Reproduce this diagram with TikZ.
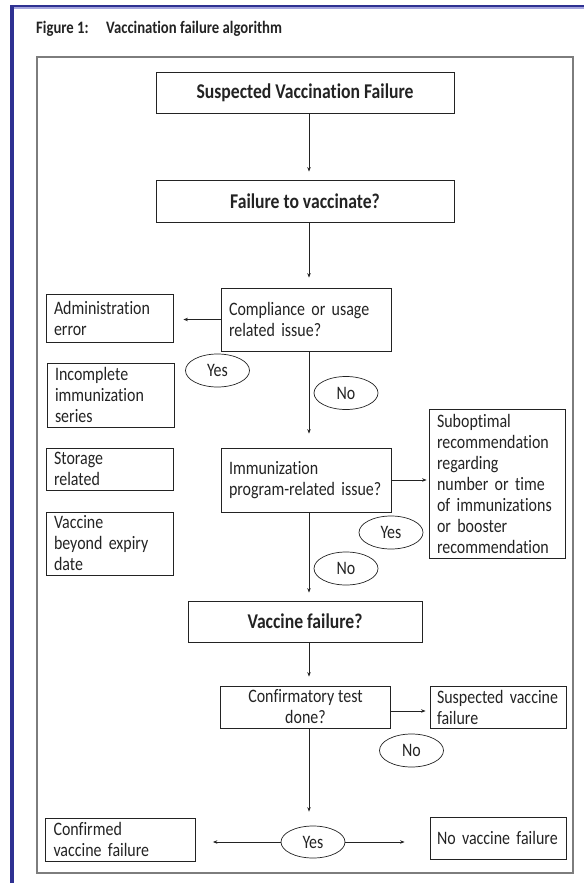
\documentclass[tikz,border=0pt]{standalone}
\usepackage{fontspec}
\setmainfont{Carlito}[FakeStretch=0.84, Ligatures=NoCommon]
\usepackage{xcolor}
\usepackage{tikz}
\usetikzlibrary{arrows.meta, shapes.geometric}
\pgfdeclarelayer{bg}
\pgfsetlayers{bg,main}
\definecolor{bandblue}{RGB}{46,49,146}
\definecolor{bandlight}{RGB}{165,165,222}
\definecolor{framegray}{RGB}{125,125,125}
\definecolor{inkgray}{RGB}{35,35,35}
\newcommand{\boxfont}{\fontsize{19}{21}\selectfont\setlength{\spaceskip}{3.8pt}}

\tikzset{
	flowbox/.style={draw=inkgray, line width=0.8pt, inner xsep=8pt, inner ysep=0pt, text=inkgray, font=\boxfont},
	leftbox/.style={flowbox, align=left},
	midbox/.style={flowbox, align=center},
	headbox/.style={flowbox, align=center, font=\fontsize{21}{24}\bfseries\selectfont},
	answer/.style={ellipse, draw=inkgray, line width=0.7pt, inner sep=0pt, minimum width=64pt, minimum height=33pt, text=inkgray, font=\fontsize{19}{21}\selectfont},
	flow/.style={draw=inkgray, line width=0.8pt, -{Stealth[length=4.5pt, width=3.5pt]}},
}

\begin{document}
\begin{tikzpicture}[x=1pt, y=-1pt]
			\useasboundingbox (0,0) rectangle (584,883);
			% page band and frame
			\fill[bandblue] (10,5) rectangle (584,7.5);
			\fill[bandlight] (14,7.5) rectangle (584,9);
			\fill[bandblue] (10,5) rectangle (14,883);
			\draw[framegray, line width=1.3pt] (37,57) rectangle (573,873);
			\node[anchor=base west, inner sep=0pt, text=inkgray, font=\fontsize{17.5}{20}\bfseries\selectfont] (title) at (36,33.5) {Figure 1:\hspace{1em}Vaccination failure algorithm};

			% main column
			\node[headbox, minimum width=298pt, minimum height=41pt] (susp) at (305,92.5) {Suspected Vaccination Failure};
			\node[headbox, minimum width=298pt, minimum height=42pt] (fail) at (305,201) {Failure to vaccinate?};
			\node[leftbox, minimum height=63pt, text width=154pt] (compl) at (306,319.5) {Compliance or usage\\related issue?};
			\node[leftbox, minimum height=64pt, text width=154pt] (immun) at (306,480) {Immunization\\program-related issue?};
			\node[headbox, minimum width=234pt, minimum height=41pt] (vfail) at (305,621.5) {Vaccine failure?};
			\node[midbox, minimum width=170pt, minimum height=42pt] (confirm) at (305.5,707) {Confirmatory test\\done?};

			% left column
			\node[leftbox, minimum height=48pt, text width=111pt] (admin) at (109.5,318) {Administration\\error};
			\node[leftbox, minimum height=64pt, text width=111pt] (incompl) at (110.5,395) {Incomplete\\immunization\\series};
			\node[leftbox, minimum height=42pt, text width=111pt] (storage) at (109.5,469) {Storage\\related};
			\node[leftbox, minimum height=63pt, text width=111pt] (expiry) at (109.5,543.5) {Vaccine\\beyond expiry\\date};
			\node[leftbox, minimum height=43pt, text width=134pt] (confirmed) at (120.5,839.5) {Confirmed\\vaccine failure};

			% right column
			\node[leftbox, minimum height=149pt, text width=120pt] (subopt) at (497,483.5) {Suboptimal\\recommendation\\regarding\\number or time\\of immunizations\\or booster\\recommendation};
			\node[leftbox, inner xsep=7pt, minimum height=42pt, text width=122pt] (suspv) at (498,707) {Suspected vaccine\\failure};
			\node[leftbox, inner xsep=7pt, minimum height=42pt, text width=122pt] (novf) at (498,838) {No vaccine failure};

			% answers
			\node[answer] (yes1) at (217.5,370.5) {Yes};
			\node[answer] (no1) at (346,393) {No};
			\node[answer] (yes2) at (391,532.5) {Yes};
			\node[answer] (no2) at (346,568.5) {No};
			\node[answer] (no3) at (411.5,750.5) {No};
			\node[answer, minimum height=32pt] (yes4) at (313,842) {Yes};

			\coordinate (spine) at (309,0);
			\begin{pgfonlayer}{bg}
				\draw[flow, shorten >=8pt] (susp.south -| spine) -- (fail.north -| spine);
				\draw[flow, shorten >=10pt] (fail.south -| spine) -- (compl.north -| spine);
				\draw[flow, shorten >=10pt] (compl.west) -- (compl.west -| admin.east);
				\draw[flow, shorten >=14pt] (compl.south -| spine) -- (immun.north -| spine);
				\draw[flow, shorten >=2pt] (immun.east) -- (immun.east -| subopt.west);
				\draw[flow, shorten >=8pt] (immun.south -| spine) -- (vfail.north -| spine);
				\draw[flow, shorten >=9pt] (vfail.south -| spine) -- (confirm.north -| spine);
				\draw[flow, shorten >=4pt] ([yshift=-4pt]confirm.east) -- ([yshift=-4pt]confirm.east -| suspv.west);
				\draw[flow, shorten >=14pt] (confirm.south -| spine) -- (yes4.north -| spine);
				\draw[flow, shorten >=17pt] (yes4.west) -- (yes4.west -| confirmed.east);
				\draw[flow, shorten >=25pt] (yes4.east) -- (yes4.east -| novf.west);
			\end{pgfonlayer}

		\end{tikzpicture}
\end{document}
